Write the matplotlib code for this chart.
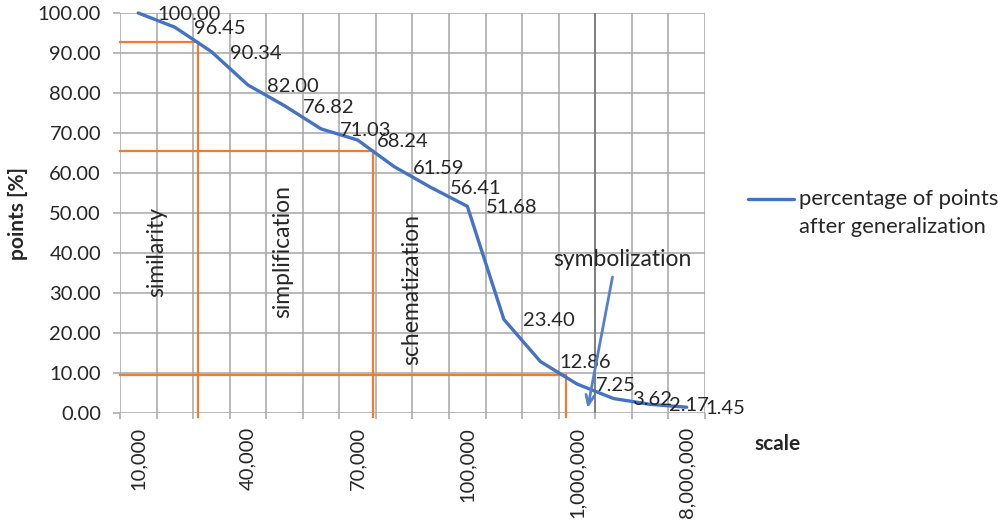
import matplotlib
matplotlib.use("Agg")
import matplotlib.pyplot as plt
import numpy as np

plt.rcParams['font.family'] = ['Lato', 'DejaVu Sans']

# ---- data ----
scale_labels = ["10,000", "", "", "40,000", "", "", "70,000", "", "",
                "100,000", "", "", "1,000,000", "", "", "8,000,000"]
points_pct = [100.00, 96.45, 90.34, 82.00, 76.82, 71.03, 68.24, 61.59,
              56.41, 51.68, 23.40, 12.86, 7.25, 3.62, 2.17, 1.45]
# phase boundaries (category position, percentage)
phase_x = [1.63, 6.41, 11.71]
phase_y = [92.8, 65.6, 9.6]
phase_names = ["similarity", "simplification", "schematization"]
phase_name_x = [0.5, 3.95, 7.47]
phase_name_y = [40.2, 40.5, 30.8]
symbol_boundary = 12.5

BLUE = "#4472C4"
ORANGE = "#ED7D31"
GRID = "#A6A6A6"
TXT = "#262626"
FS = 14.5      # numbers
FW = 16.5      # words
FL = 15.8      # legend

fig = plt.figure(figsize=(9.98, 5.24), dpi=100)
ax = fig.add_axes([0.1202, 0.2118, 0.7064 - 0.1202, 0.9752 - 0.2118])

n = len(points_pct)
x = np.arange(n)
ax.set_xlim(-0.5, n - 0.5)
ax.set_ylim(0, 100)

# gridlines
for yv in np.arange(0, 101, 10):
    ax.axhline(yv, color=GRID, lw=1.1, zorder=1)
for b in np.arange(-0.5, n, 1.0):
    ax.axvline(b, color=GRID, lw=1.1, zorder=1)
ax.axvline(symbol_boundary, color="#7F7F7F", lw=1.4, zorder=1)

for s in ax.spines.values():
    s.set_visible(False)

# orange phase lines
for px, py in zip(phase_x, phase_y):
    ax.plot([-0.5, px], [py, py], color=ORANGE, lw=1.6, zorder=2, clip_on=False)
    ax.plot([px, px], [py, -1.0], color=ORANGE, lw=1.6, zorder=2, clip_on=False)

# main line
line, = ax.plot(x, points_pct, color=BLUE, lw=2.4, zorder=3, solid_capstyle='round',
                label="percentage of points\nafter generalization", clip_on=False)

for xi, yi in zip(x, points_pct):
    ax.annotate(f"{yi:.2f}", (xi, yi), xytext=(13.5, -1), textcoords="offset points",
                ha="left", va="center", fontsize=FS, color=TXT, zorder=4,
                annotation_clip=False)

# phase names
for name, nx, ny in zip(phase_names, phase_name_x, phase_name_y):
    ax.text(nx, ny, name, rotation=90, ha="center", va="center",
            fontsize=FW, color=TXT, zorder=4)

ax.text(13.25, 38.5, "symbolization", ha="center", va="center",
        fontsize=FW, color=TXT, zorder=4)
ax.annotate("", xy=(12.29, 1.2), xytext=(12.97, 34.0),
            arrowprops=dict(arrowstyle="->,head_length=0.7,head_width=0.3",
                            color="#5580CC", lw=2.0, shrinkA=0, shrinkB=0),
            zorder=4)

# ticks
ax.set_yticks(np.arange(0, 101, 10))
ax.set_yticklabels([f"{v:.2f}" for v in np.arange(0, 101, 10)])
ax.tick_params(axis='y', length=5, color=GRID, width=1.1, pad=8.6,
               labelsize=FS, labelcolor=TXT)
ax.set_xticks(x)
ax.set_xticklabels(scale_labels, rotation=90)
ax.tick_params(axis='x', length=0, pad=10, labelsize=FS, labelcolor=TXT)
ax.set_xticks(np.arange(-0.5, n, 1.0), minor=True)
ax.tick_params(axis='x', which='minor', length=4, color=GRID, width=1.1)

ax.set_ylabel("points [%]", fontsize=15, fontweight="bold", color=TXT, labelpad=7)
fig.text(0.779, 1 - 444 / 524, "scale", fontsize=15, fontweight="bold", color=TXT,
         ha="center", va="center")

leg = fig.legend(handles=[line], loc="center left", bbox_to_anchor=(0.7295, 1 - 213 / 524),
                 frameon=False, fontsize=FL, handlelength=2.1, handletextpad=0.25,
                 labelcolor=TXT)
for t in leg.get_texts():
    t.set_linespacing(1.45)
# align legend line with the first text line (as in the reference)
for lh in leg.get_lines():
    lh.set_ydata(np.asarray(lh.get_ydata()) + 10.5)

fig.savefig("out.png", dpi=100)
